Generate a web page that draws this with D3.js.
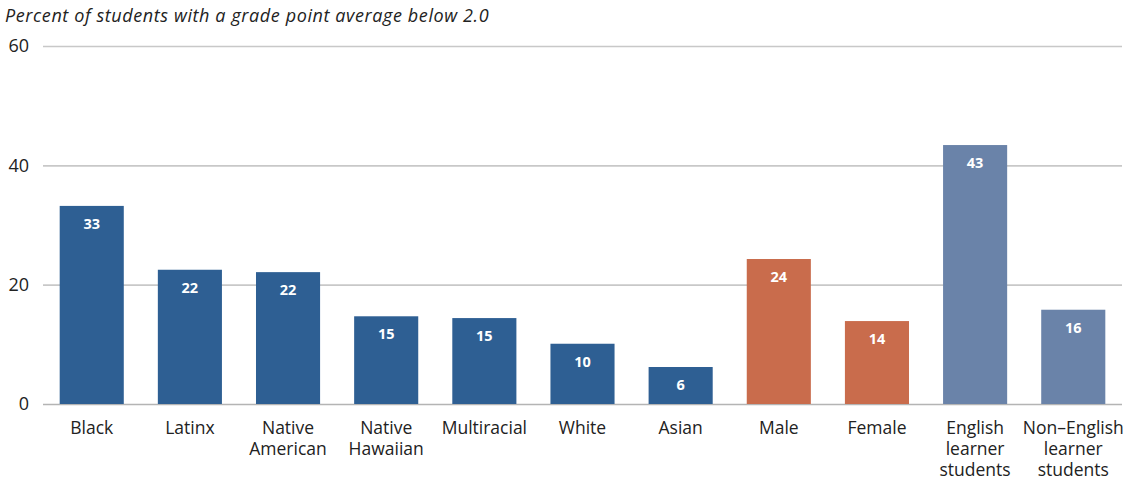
<!DOCTYPE html>
<html><head><meta charset="utf-8">
<script src="https://cdn.jsdelivr.net/npm/d3@7"></script>
<style>body{margin:0;background:#fff}svg{display:block}text{font-family:"Open Sans",sans-serif}</style>
</head><body><svg id="c" width="1125" height="481"></svg>
<script>
const categories = ["Black","Latinx","Native American","Native Hawaiian","Multiracial","White","Asian","Male","Female","English learner students","Non–English learner students"];
const labelLines = [["Black"],["Latinx"],["Native","American"],["Native","Hawaiian"],["Multiracial"],["White"],["Asian"],["Male"],["Female"],["English","learner","students"],["Non–English","learner","students"]];
const values = [33.2,22.5,22.1,14.7,14.4,10.1,6.2,24.3,13.9,43.4,15.8];
const valueLabels = ["33","22","22","15","15","10","6","24","14","43","16"];
const groups = ["race","race","race","race","race","race","race","gender","gender","el","el"];
const yTicks = [0,20,40,60];
const title = "Percent of students with a grade point average below 2.0";

const color = d3.scaleOrdinal().domain(["race","gender","el"]).range(["#2e5f93","#c96c4c","#6a83a9"]);
const svg = d3.select("#c");
const x = d3.scaleBand().domain(categories).range([43,1122]).paddingInner(0.347).paddingOuter(0.17);
const y = d3.scaleLinear().domain([0,60]).range([404,46]);

svg.append("text").attr("x",5).attr("y",22).attr("font-size",18).attr("letter-spacing",0.6)
  .attr("font-style","italic").attr("fill","#222").text(title);

const yAxis = svg.append("g").attr("transform","translate(43,0)")
  .call(d3.axisLeft(y).tickValues(yTicks).tickSize(-1079).tickPadding(14));
yAxis.select(".domain").remove();
yAxis.selectAll(".tick line").attr("stroke",d=>d===0?"#b4b4b4":"#c8c8c8").attr("stroke-width",1.6);
yAxis.selectAll(".tick text").attr("font-size",18).attr("fill","#222").attr("font-family","'Open Sans',sans-serif");

svg.append("g").selectAll("rect").data(categories).join("rect")
  .attr("x",d=>x(d)).attr("width",x.bandwidth())
  .attr("y",(d,i)=>y(values[i])).attr("height",(d,i)=>y(0)-y(values[i]))
  .attr("fill",(d,i)=>color(groups[i]));

svg.append("g").selectAll("text").data(categories).join("text")
  .attr("x",d=>x(d)+x.bandwidth()/2).attr("y",(d,i)=>y(values[i])+23)
  .attr("text-anchor","middle").attr("font-size",14.5).attr("font-weight","bold").attr("fill","#fff")
  .text((d,i)=>valueLabels[i]);

const xl = svg.append("g").selectAll("text").data(categories).join("text")
  .attr("x",d=>x(d)+x.bandwidth()/2).attr("y",434)
  .attr("text-anchor","middle").attr("font-size",17.5).attr("fill","#222");
xl.each(function(d,i){
  d3.select(this).selectAll("tspan").data(labelLines[i]).join("tspan")
    .attr("x",x(d)+x.bandwidth()/2).attr("dy",(t,j)=>j===0?0:21).text(t=>t);
});
</script></body></html>
